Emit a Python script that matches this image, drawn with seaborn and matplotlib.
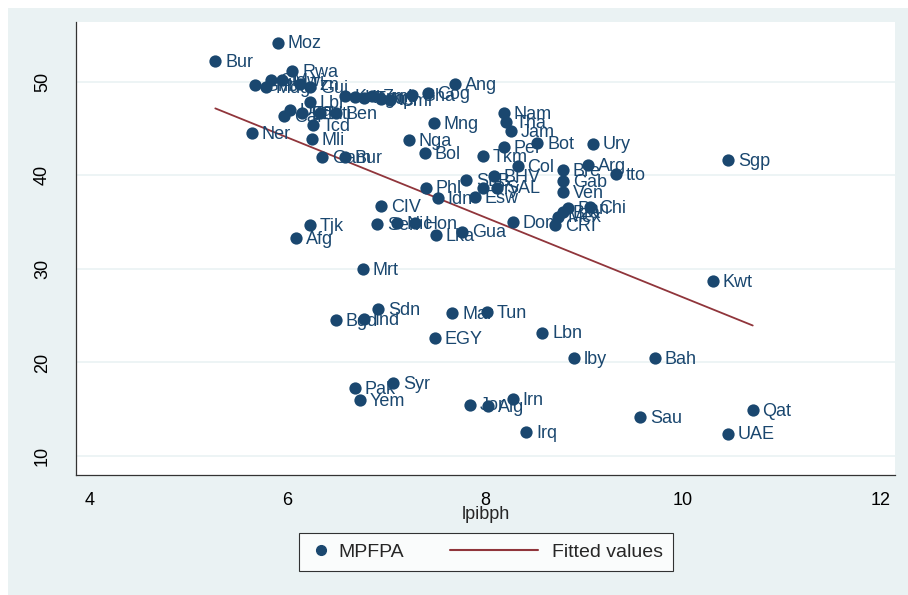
import numpy as np
import pandas as pd
import matplotlib.pyplot as plt
import matplotlib.patches as mpatches
from matplotlib.lines import Line2D
from matplotlib.legend_handler import HandlerLine2D
import seaborn as sns

sns.set_style("white")
plt.rcParams['font.family'] = ['Liberation Sans', 'DejaVu Sans']

# Pays (codes affichés comme étiquettes), log PIB par habitant, MPFPA
pays = ['Moz', 'Bur', 'Rwa', 'Sle', 'Gnb', 'Mdg', 'Mwi', 'Tzn', 'Gui', 'Ang',
        'Ken', 'Khm', 'Tgo', 'Zmb', 'Npl', 'Cmr', 'Gha', 'Cog', 'Lbr', 'Uga',
        'Eth', 'Hti', 'Ben', 'Caf', 'Tcd', 'Nam', 'Tha', 'Jam', 'Mng', 'Ner',
        'Mli', 'Nga', 'Bot', 'Ury', 'Per', 'Bol', 'Tkm', 'Gam', 'Bur', 'Col',
        'Sgp', 'Bre', 'Arg', 'tto', 'Gab', 'Ven', 'BHV', 'SLB', 'Pry', 'SAL',
        'Phl', 'Idn', 'Esw', 'CIV', 'Tjk', 'Afg', 'Sen', 'Nic', 'Hon', 'Lka',
        'Gua', 'Dom', 'CRI', 'Mex', 'Bra', 'Pan', 'Chi', 'Mrt', 'Kwt', 'Sdn',
        'Bgd', 'Ind', 'Mar', 'Tun', 'EGY', 'Lbn', 'lby', 'Bah', 'Pak', 'Syr',
        'Yem', 'Jor', 'Alg', 'Irn', 'Irq', 'Sau', 'Qat', 'UAE']

lpibph = [5.90, 5.27, 6.05, 5.83, 5.67, 5.78, 5.95, 6.13, 6.23, 7.70,
          6.58, 6.68, 6.78, 6.86, 6.95, 7.04, 7.26, 7.42, 6.23, 6.03,
          6.15, 6.33, 6.49, 5.97, 6.26, 8.19, 8.21, 8.26, 7.48, 5.64,
          6.25, 7.23, 8.53, 9.09, 8.19, 7.39, 7.98, 6.35, 6.58, 8.33,
          10.46, 8.79, 9.04, 9.33, 8.79, 8.79, 8.09, 7.81, 7.98, 8.12,
          7.40, 7.52, 7.90, 6.95, 6.23, 6.09, 6.91, 7.11, 7.29, 7.50,
          7.77, 8.28, 8.71, 8.74, 8.79, 8.84, 9.06, 6.76, 10.31, 6.92,
          6.49, 6.78, 7.67, 8.02, 7.49, 8.58, 8.90, 9.72, 6.68, 7.07,
          6.73, 7.85, 8.03, 8.28, 8.42, 9.57, 10.71, 10.46]

mpfpa = [54.2, 52.2, 51.2, 50.2, 49.7, 49.4, 50.2, 49.8, 49.4, 49.8,
         48.5, 48.4, 48.3, 48.5, 48.2, 48.1, 48.6, 48.8, 47.8, 47.0,
         46.7, 46.7, 46.7, 46.3, 45.4, 46.7, 45.7, 44.7, 45.6, 44.5,
         43.9, 43.8, 43.5, 43.4, 43.0, 42.4, 42.1, 42.0, 42.0, 41.0,
         41.6, 40.6, 41.1, 40.1, 39.4, 38.2, 39.9, 39.5, 38.6, 38.7,
         38.7, 37.6, 37.7, 36.7, 34.7, 33.3, 34.8, 34.9, 34.9, 33.6,
         34.0, 35.0, 34.7, 35.6, 36.1, 36.5, 36.6, 30.0, 28.7, 25.7,
         24.5, 24.6, 25.3, 25.4, 22.6, 23.2, 20.5, 20.5, 17.3, 17.8,
         16.0, 15.5, 15.3, 16.1, 12.6, 14.2, 14.9, 12.4]

df = pd.DataFrame({'pays': pays, 'lpibph': lpibph, 'MPFPA': mpfpa})

navy = '#1A476F'
maroon = '#90353B'
fond = '#EAF2F3'

fig = plt.figure(figsize=(9.08, 5.95), dpi=100, facecolor='white')
# fond gris-bleu façon Stata
fig.patches.append(mpatches.Rectangle((8 / 908, 0), 1, 1 - 8 / 595, transform=fig.transFigure,
                                      facecolor=fond, edgecolor='none', zorder=-10))
ax = fig.add_axes([76 / 908, 120 / 595, 819 / 908, 453 / 595])
ax.set_facecolor('white')

# droite de régression (lfit)
pente, ordonnee = np.polyfit(df['lpibph'], df['MPFPA'], 1)
xs = np.array([df['lpibph'].min(), df['lpibph'].max()])
sns.lineplot(x=xs, y=ordonnee + pente * xs, ax=ax, color=maroon, linewidth=1.3, zorder=2)

sns.scatterplot(data=df, x='lpibph', y='MPFPA', ax=ax, color=navy, s=78,
                edgecolor=navy, linewidth=0, zorder=3)

for _, r in df.iterrows():
    ax.annotate(r['pays'], (r['lpibph'], r['MPFPA']), xytext=(7, -1), textcoords='offset points',
                va='center', ha='left', fontsize=13, color=navy, zorder=4)

ax.set_xlim(3.86, 12.15)
ax.set_ylim(7.97, 56.4)
ax.set_xticks([4, 6, 8, 10, 12])
ax.set_yticks([10, 20, 30, 40, 50])
ax.yaxis.grid(True, color=fond, linewidth=1.2)
ax.set_axisbelow(True)
for s in ['top', 'right']:
    ax.spines[s].set_visible(False)
for s in ['left', 'bottom']:
    ax.spines[s].set_color('#333333')
    ax.spines[s].set_linewidth(0.9)
ax.tick_params(axis='both', direction='out', length=7, width=0.9, color='#333333',
               labelsize=13, labelcolor='black')
ax.tick_params(axis='y', pad=11)
ax.tick_params(axis='x', pad=5)
plt.setp(ax.get_yticklabels(), rotation=90, va='center')
ax.set_xlabel('lpibph', fontsize=13, labelpad=-2)
ax.set_ylabel('')


# la ligne de la légende s'étend à gauche de sa case, comme dans Stata
class LigneLongue(HandlerLine2D):
    def create_artists(self, legend, orig_handle, xdescent, ydescent, width, height, fontsize, trans):
        arts = super().create_artists(legend, orig_handle, xdescent, ydescent, width, height, fontsize, trans)
        for a in arts:
            n = len(a.get_xdata())
            a.set_xdata(np.linspace(-xdescent - 52, -xdescent + 11, n))
        return arts


h_pt = Line2D([], [], marker='o', linestyle='none', color=navy, markersize=7)
h_ln = Line2D([], [], color=maroon, linewidth=1.5)
leg = fig.legend([h_pt, h_ln], ['MPFPA', 'Fitted values'], ncol=2, loc='center',
                 bbox_to_anchor=(486 / 908, 1 - 552 / 595), frameon=True, fancybox=False,
                 fontsize=14, handlelength=1.2, handletextpad=0.3, columnspacing=6.1,
                 borderpad=0.5, borderaxespad=0.3,
                 handler_map={h_ln: LigneLongue()})
leg.get_frame().set_edgecolor('black')
leg.get_frame().set_linewidth(0.8)

fig.savefig('out.png', dpi=100, facecolor=fig.get_facecolor())
